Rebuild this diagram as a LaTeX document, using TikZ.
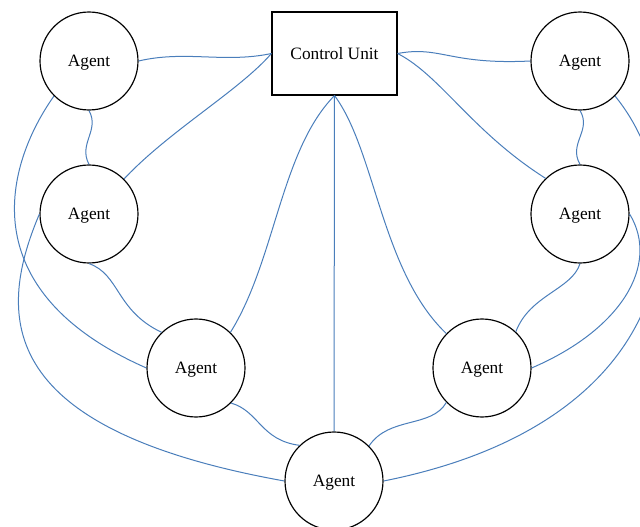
\documentclass[tikz,border=0pt]{standalone}
\usepackage{fontspec}
\setmainfont{Liberation Serif}
\definecolor{linkblue}{RGB}{74,126,187}
\begin{document}
\begin{tikzpicture}[x=.6pt,y=-.6pt,
  agent/.style={circle,draw,line width=.7pt,minimum size=58.8pt,inner sep=0pt,text depth=-1pt,font=\fontsize{10.4}{12}\selectfont},
  unit/.style={rectangle,draw,line width=.7pt,minimum width=75pt,minimum height=49.8pt,font=\fontsize{10.4}{12}\selectfont},
  link/.style={draw=linkblue,line width=.6pt}]
\useasboundingbox (0,0) rectangle (640,527);
\clip (0,0) rectangle (640,527);
\node[unit] (cu) at (334.5,53.5) {Control Unit};
\node[agent] (a1) at (89,61) {Agent};
\node[agent] (a2) at (89,214) {Agent};
\node[agent] (a3) at (196,368) {Agent};
\node[agent] (a4) at (334,481) {Agent};
\node[agent] (a5) at (482,368) {Agent};
\node[agent] (a6) at (580,214) {Agent};
\node[agent] (a7) at (580,61) {Agent};
% left side
\path[link] (a1.east) .. controls +(47,-11) and +(-47,10) .. (cu.west);
\path[link] (a2.45) .. controls +(45,-48) and +(-32,37) .. (cu.west);
\path[link] (a1.south) .. controls +(11,20) and +(-11,-21) .. (a2.north);
\path[link] (a1.225) .. controls +(-48,68) and +(-177,-78) .. (a3.west);
\path[link] (a2.west) .. controls +(-45,106) and +(-285,-51) .. (a4.west);
\path[link] (a2.south) .. controls +(31,11) and +(-46,-22) .. (a3.134);
\path[link] (a3.46) .. controls +(45,-72) and +(-54,55) .. (cu.south);
\path[link] (a3.-45) .. controls +(28,8) and +(-39,-5) .. (a4.134);
% centre
\path[link] (cu.south) -- (a4.north);
% right side
\path[link] (cu.south) .. controls +(41,55) and +(-65,-62) .. (a5.136);
\path[link] (a4.45) .. controls +(20,-30) and +(-15,26) .. (a5.224);
\path[link] (cu.east) .. controls +(43,-8) and +(-81,4) .. (a7.west);
\path[link] (cu.east) .. controls +(43,22) and +(-74,-47) .. (a6.134);
\path[link] (a7.south) .. controls +(12,20) and +(-12,-21) .. (a6.north);
\path[link] (a6.south) .. controls +(-8,26) and +(14,-37) .. (a5.47);
\path[link] (a6.east) .. controls +(31,51) and +(89,-38) .. (a5.east);
\path[link] (a7.-45) .. controls +(84,103) and +(307,-61) .. (a4.east);
\end{tikzpicture}
\end{document}
